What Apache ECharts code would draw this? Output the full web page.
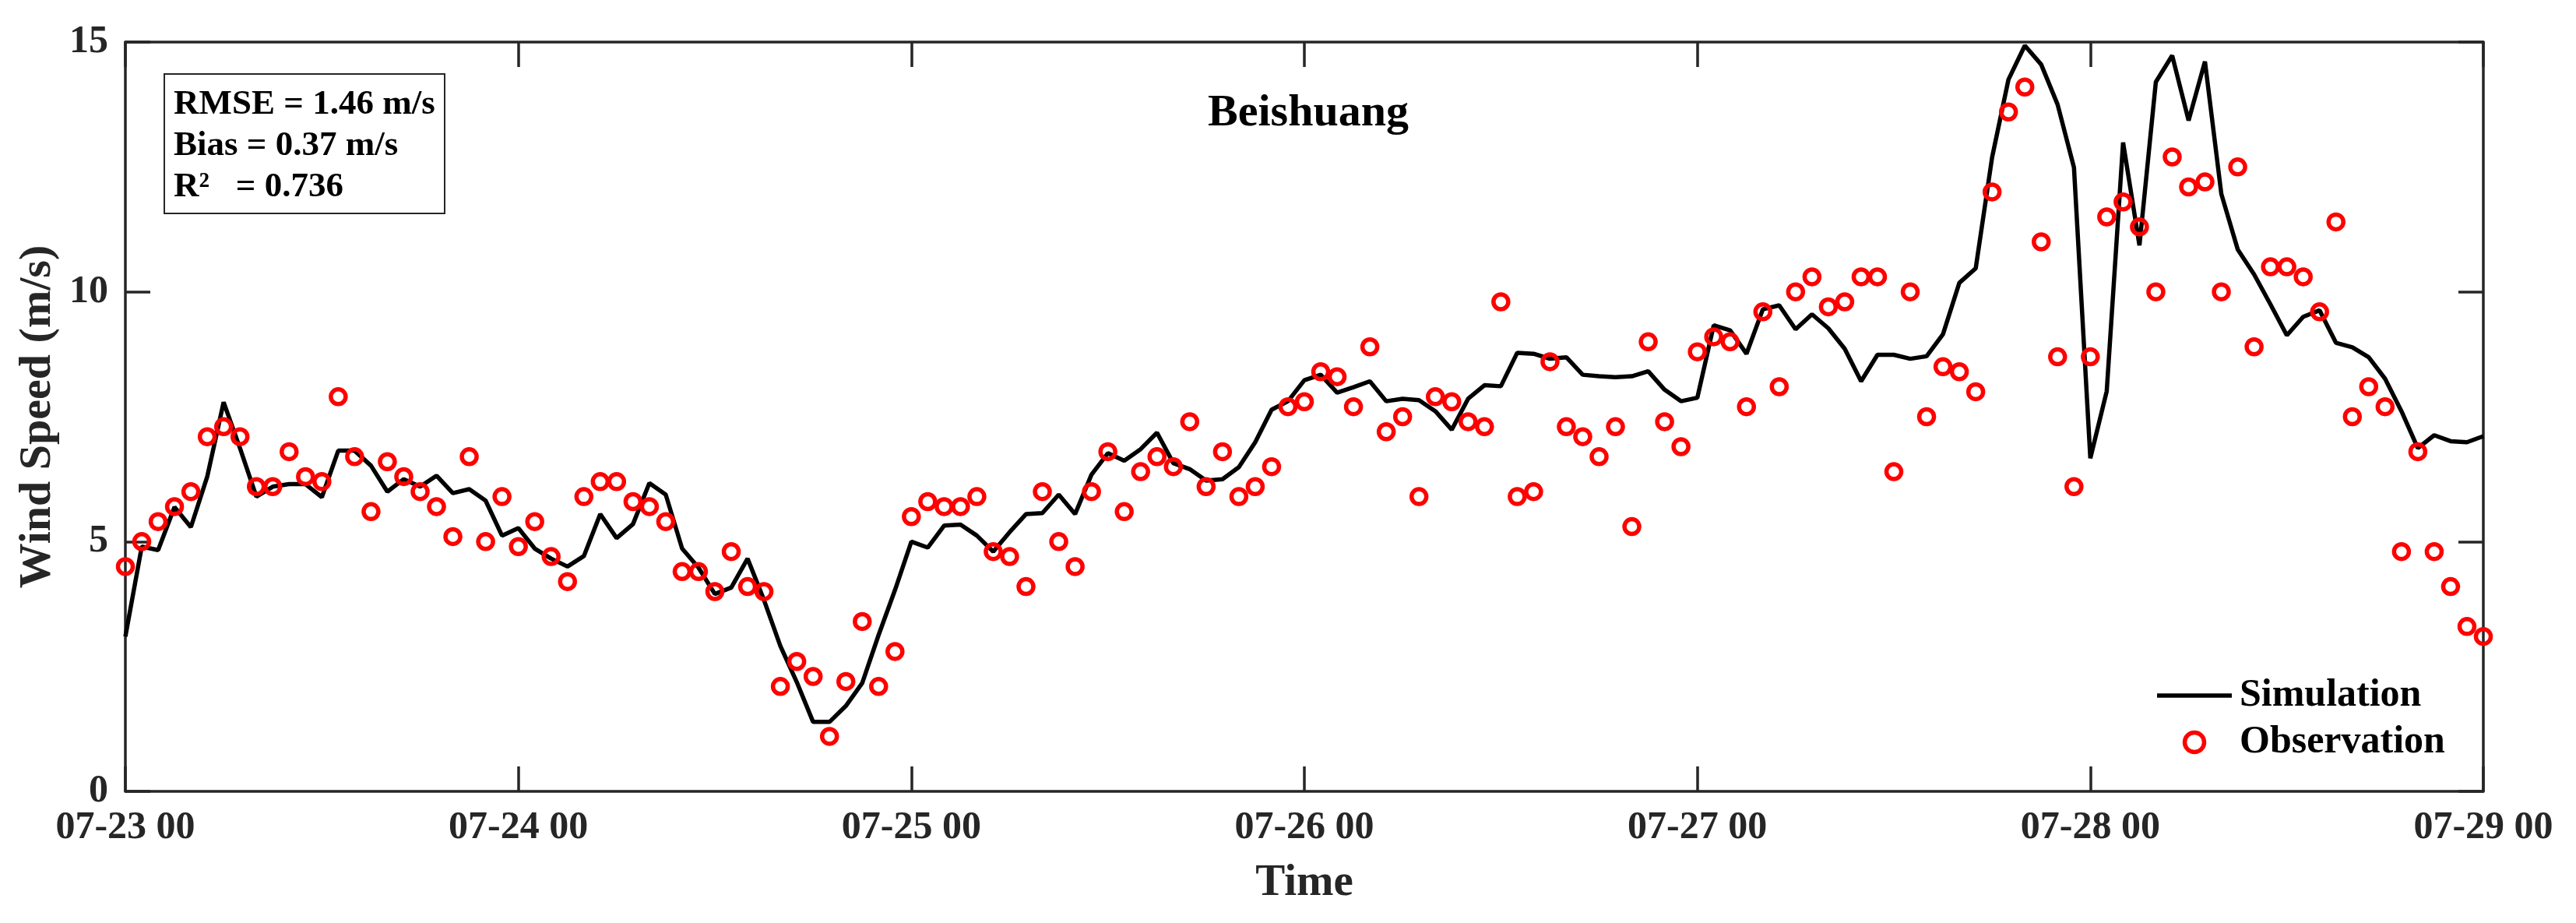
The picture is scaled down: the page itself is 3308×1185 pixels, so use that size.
<!DOCTYPE html>
<html>
<head>
<meta charset="utf-8">
<title>Beishuang wind speed</title>
<script src="https://cdn.jsdelivr.net/npm/echarts@6/dist/echarts.min.js"></script>
<style>
    html, body { margin: 0; padding: 0; background: #fff; }
    #chart { width: 3308px; height: 1185px; }
</style>
</head>
<body>
<div id="chart"></div>
<script>
// 时间轴刻度 (每24小时一个)
var tickLabels = ['07-23 00', '07-24 00', '07-25 00', '07-26 00', '07-27 00', '07-28 00', '07-29 00'];

// 模拟值, 逐小时, 07-23 00 ~ 07-29 00
var simulation = [
    3.10, 4.90, 4.83, 5.69, 5.29, 6.30, 7.79, 6.87, 5.90, 6.10, 6.15, 6.15,
    5.89, 6.82, 6.82, 6.52, 6.00, 6.25, 6.10, 6.32, 5.97, 6.05, 5.82, 5.12,
    5.27, 4.86, 4.66, 4.50, 4.71, 5.55, 5.07, 5.35, 6.17, 5.94, 4.86, 4.48,
    3.95, 4.08, 4.66, 3.83, 2.91, 2.19, 1.39, 1.39, 1.71, 2.17, 3.13, 4.03,
    5.00, 4.88, 5.32, 5.34, 5.12, 4.80, 5.19, 5.55, 5.57, 5.94, 5.55, 6.34,
    6.77, 6.62, 6.85, 7.18, 6.57, 6.45, 6.22, 6.25, 6.49, 6.99, 7.64, 7.81,
    8.23, 8.34, 7.98, 8.09, 8.21, 7.81, 7.86, 7.83, 7.61, 7.24, 7.86, 8.13,
    8.11, 8.78, 8.76, 8.66, 8.69, 8.34, 8.31, 8.29, 8.31, 8.41, 8.04, 7.81,
    7.88, 9.33, 9.23, 8.76, 9.65, 9.73, 9.25, 9.55, 9.27, 8.86, 8.21, 8.74,
    8.74, 8.66, 8.71, 9.15, 10.18, 10.47, 12.69, 14.25, 14.93, 14.55, 13.75, 12.49,
    6.67, 8.01, 12.99, 10.93, 14.20, 14.73, 13.43, 14.61, 11.96, 10.85, 10.35, 9.75,
    9.13, 9.50, 9.63, 8.98, 8.89, 8.69, 8.26, 7.61, 6.87, 7.13, 7.01, 6.99,
    7.11
];

// 观测值, 逐小时
var observation = [
    4.5, 5.0, 5.4, 5.7, 6.0, 7.1, 7.3, 7.1, 6.1, 6.1, 6.8, 6.3,
    6.2, 7.9, 6.7, 5.6, 6.6, 6.3, 6.0, 5.7, 5.1, 6.7, 5.0, 5.9,
    4.9, 5.4, 4.7, 4.2, 5.9, 6.2, 6.2, 5.8, 5.7, 5.4, 4.4, 4.4,
    4.0, 4.8, 4.1, 4.0, 2.1, 2.6, 2.3, 1.1, 2.2, 3.4, 2.1, 2.8,
    5.5, 5.8, 5.7, 5.7, 5.9, 4.8, 4.7, 4.1, 6.0, 5.0, 4.5, 6.0,
    6.8, 5.6, 6.4, 6.7, 6.5, 7.4, 6.1, 6.8, 5.9, 6.1, 6.5, 7.7,
    7.8, 8.4, 8.3, 7.7, 8.9, 7.2, 7.5, 5.9, 7.9, 7.8, 7.4, 7.3,
    9.8, 5.9, 6.0, 8.6, 7.3, 7.1, 6.7, 7.3, 5.3, 9.0, 7.4, 6.9,
    8.8, 9.1, 9.0, 7.7, 9.6, 8.1, 10.0, 10.3, 9.7, 9.8, 10.3, 10.3,
    6.4, 10.0, 7.5, 8.5, 8.4, 8.0, 12.0, 13.6, 14.1, 11.0, 8.7, 6.1,
    8.7, 11.5, 11.8, 11.3, 10.0, 12.7, 12.1, 12.2, 10.0, 12.5, 8.9, 10.5,
    10.5, 10.3, 9.6, 11.4, 7.5, 8.1, 7.7, 4.8, 6.8, 4.8, 4.1, 3.3,
    3.1
];

// 统计信息
var statLines = ['RMSE = 1.46 m/s', 'Bias = 0.37 m/s', 'R\u00b2   = 0.736'];

(function (w, d, undefined) {
    var FONT = "'Liberation Serif', 'Times New Roman', serif";
    var AXIS_COLOR = '#262626';
    var RED = '#ff0000';

    function toPairs(arr) {
        var out = [];
        for (var i = 0; i < arr.length; i++) {
            out.push([i, arr[i]]);
        }
        return out;
    }

    var tickStyle = {
        show: true,
        inside: true,
        length: 32,
        lineStyle: { color: AXIS_COLOR, width: 3.5 }
    };
    var lineStyle = {
        show: true,
        onZero: false,
        lineStyle: { color: AXIS_COLOR, width: 3.5 }
    };
    var labelStyle = {
        fontFamily: FONT,
        fontWeight: 'bold',
        fontSize: 50,
        color: AXIS_COLOR
    };

    var chart = echarts.init(d.getElementById('chart'), null, { renderer: 'canvas' });

    var option = {
        animation: false,
        backgroundColor: '#fff',
        grid: { left: 161, right: 119, top: 54, bottom: 169, containLabel: false },
        title: {
            text: 'Beishuang',
            left: 1675,
            textAlign: 'center',
            top: 112,
            textStyle: { fontFamily: FONT, fontWeight: 'bold', fontSize: 58, color: '#000' }
        },
        legend: {
            orient: 'vertical',
            left: 2770,
            top: 868,
            padding: 0,
            itemWidth: 96,
            itemHeight: 25,
            itemGap: 10,
            textStyle: { fontFamily: FONT, fontWeight: 'bold', fontSize: 50, color: '#000', padding: [0, 0, 0, 5] },
            data: [{
                name: 'Simulation',
                icon: 'path://M0,0H96V5.5H0Z',
                itemStyle: { color: '#000', borderWidth: 0 }
            }, {
                name: 'Observation',
                icon: 'circle',
                itemStyle: { color: 'rgba(255,255,255,0)', borderColor: RED, borderWidth: 5.5 }
            }]
        },
        xAxis: [{
            type: 'value',
            min: 0,
            max: 144,
            interval: 24,
            position: 'bottom',
            axisLine: lineStyle,
            axisTick: tickStyle,
            splitLine: { show: false },
            axisLabel: Object.assign({
                margin: 22,
                formatter: function (v) { return tickLabels[v / 24] || ''; }
            }, labelStyle),
            name: 'Time',
            nameLocation: 'middle',
            nameGap: 90,
            nameTextStyle: { fontFamily: FONT, fontWeight: 'bold', fontSize: 57, color: AXIS_COLOR }
        }, {
            type: 'value',
            min: 0,
            max: 144,
            interval: 24,
            position: 'top',
            axisLine: lineStyle,
            axisTick: tickStyle,
            splitLine: { show: false },
            axisLabel: { show: false }
        }],
        yAxis: [{
            type: 'value',
            min: 0,
            max: 15,
            interval: 5,
            position: 'left',
            axisLine: lineStyle,
            axisTick: tickStyle,
            splitLine: { show: false },
            axisLabel: Object.assign({ margin: 22 }, labelStyle),
            name: 'Wind Speed (m/s)',
            nameLocation: 'middle',
            nameRotate: 90,
            nameGap: 77,
            nameTextStyle: { fontFamily: FONT, fontWeight: 'bold', fontSize: 58, color: AXIS_COLOR }
        }, {
            type: 'value',
            min: 0,
            max: 15,
            interval: 5,
            position: 'right',
            axisLine: lineStyle,
            axisTick: tickStyle,
            splitLine: { show: false },
            axisLabel: { show: false }
        }],
        graphic: [{
            type: 'group',
            left: 210,
            top: 94,
            children: [{
                type: 'rect',
                shape: { x: 0, y: 0, width: 360, height: 179 },
                style: { fill: '#fff', stroke: AXIS_COLOR, lineWidth: 2 }
            }].concat(statLines.map(function (s, i) {
                return {
                    type: 'text',
                    x: 12,
                    y: 39 + i * 53,
                    style: {
                        text: s,
                        fontFamily: FONT,
                        fontWeight: 'bold',
                        fontSize: 45,
                        fill: '#000',
                        verticalAlign: 'middle'
                    }
                };
            }))
        }],
        series: [{
            name: 'Simulation',
            type: 'line',
            data: toPairs(simulation),
            symbol: 'none',
            lineStyle: { color: '#000', width: 5.5 },
            itemStyle: { color: '#000' },
            z: 2
        }, {
            name: 'Observation',
            type: 'scatter',
            data: toPairs(observation),
            symbol: 'circle',
            symbolSize: 19,
            itemStyle: { color: 'rgba(255,255,255,0)', borderColor: RED, borderWidth: 5.5, opacity: 1 },
            z: 3
        }]
    };

    chart.setOption(option);
})(window, document);
</script>
</body>
</html>
